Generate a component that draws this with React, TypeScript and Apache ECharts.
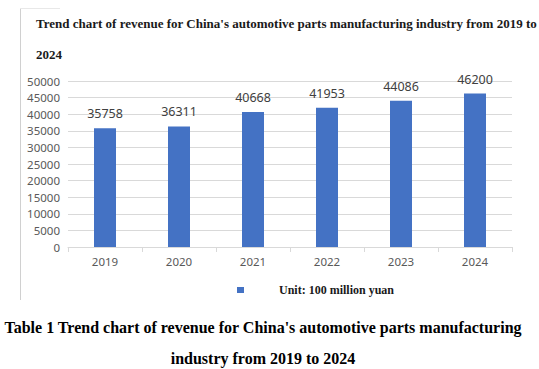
import React, { useEffect, useRef } from "react";
import * as echarts from "echarts";

const categories = ["2019", "2020", "2021", "2022", "2023", "2024"];
const revenue = [35758, 36311, 40668, 41953, 44086, 46200];
const chartTitle1 = "Trend chart of revenue for China's automotive parts manufacturing industry from 2019 to";
const chartTitle2 = "2024";
const legendLabel = "Unit: 100 million yuan";
const caption1 = "Table 1 Trend chart of revenue for China's automotive parts manufacturing";
const caption2 = "industry from 2019 to 2024";

export default function App() {
  const ref = useRef<HTMLDivElement>(null);
  useEffect(() => {
    document.body.style.margin = "0";
    const chart = echarts.init(ref.current!, null, { renderer: "svg" });
    const serif = "'Liberation Serif', 'Times New Roman', serif";
    const sans = "'Noto Sans', 'Liberation Sans', sans-serif";
    chart.setOption({
      animation: false,
      backgroundColor: "#ffffff",
      grid: { left: 68, right: 27, top: 81, bottom: 122, containLabel: false },
      xAxis: {
        type: "category",
        data: categories,
        boundaryGap: true,
        axisLine: { lineStyle: { color: "#d9d9d9" } },
        axisTick: { show: true, length: 5, lineStyle: { color: "#d9d9d9" } },
        axisLabel: { color: "#595959", fontSize: 11.5, fontFamily: sans, margin: 8 },
      },
      yAxis: {
        type: "value",
        min: 0,
        max: 50000,
        interval: 5000,
        axisLine: { show: false },
        axisTick: { show: false },
        splitLine: { lineStyle: { color: "#d9d9d9" } },
        axisLabel: {
          color: "#595959",
          fontSize: 11.5,
          fontFamily: sans,
          margin: 8,
          formatter: (v: number) => String(v),
        },
      },
      series: [
        {
          type: "bar",
          data: revenue,
          barWidth: 22,
          itemStyle: { color: "#4472c4" },
          label: {
            show: true,
            position: "top",
            distance: 8,
            color: "#404040",
            fontSize: 12.5,
            fontFamily: sans,
          },
        },
      ],
      graphic: [
        { type: "line", shape: { x1: 20.5, y1: 8, x2: 20.5, y2: 300 }, style: { stroke: "#d0d0d0", lineWidth: 1 } },
        { type: "line", shape: { x1: 20, y1: 8.5, x2: 60, y2: 8.5 }, style: { stroke: "#e8e8e8", lineWidth: 1 } },
        {
          type: "text",
          x: 36,
          y: 23,
          style: { text: chartTitle1, font: `bold 13px ${serif}`, fill: "#1a1a1a", textVerticalAlign: "middle" },
        },
        {
          type: "text",
          x: 36,
          y: 54,
          style: { text: chartTitle2, font: `bold 13px ${serif}`, fill: "#1a1a1a", textVerticalAlign: "middle" },
        },
        { type: "rect", shape: { x: 237, y: 287, width: 7, height: 6 }, style: { fill: "#4472c4" } },
        {
          type: "text",
          x: 279,
          y: 290,
          style: { text: legendLabel, font: `bold 12px ${serif}`, fill: "#1a1a1a", textVerticalAlign: "middle" },
        },
        {
          type: "text",
          x: 263,
          y: 327,
          style: {
            text: caption1,
            font: `bold 16px ${serif}`,
            fill: "#000000",
            textAlign: "center",
            textVerticalAlign: "middle",
          },
        },
        {
          type: "text",
          x: 263,
          y: 358,
          style: {
            text: caption2,
            font: `bold 16px ${serif}`,
            fill: "#000000",
            textAlign: "center",
            textVerticalAlign: "middle",
          },
        },
      ],
    });
    return () => chart.dispose();
  }, []);
  return <div ref={ref} style={{ position: "fixed", left: 0, top: 0, width: 539, height: 369 }} />;
}
